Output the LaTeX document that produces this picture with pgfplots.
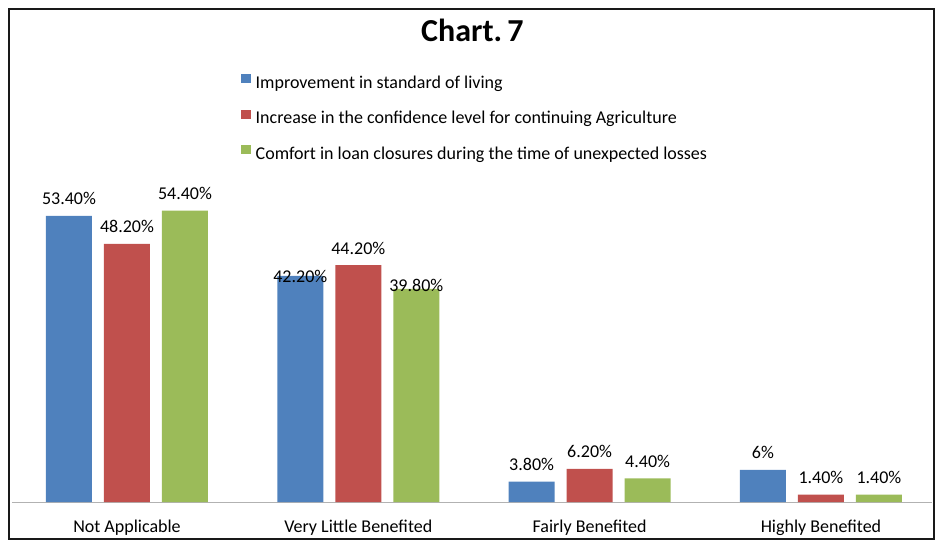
\documentclass[border=0pt]{standalone}
\usepackage{pgfplots}
\pgfplotsset{compat=1.18}
\usepackage{fontspec}
\setmainfont{Carlito}
\definecolor{cblue}{HTML}{4F81BD}
\definecolor{cred}{HTML}{C0504D}
\definecolor{cgreen}{HTML}{9BBB59}
\begin{document}
\begin{tikzpicture}[x=1pt,y=1pt]
\path (0,0) rectangle (937,542);
\draw[line width=2pt, black!90] (8.5,3) rectangle (934,532.5);
\begin{axis}[
  at={(12pt,40pt)}, anchor=south west,
  scale only axis, width=920pt, height=321.4pt,
  xmin=-0.497, xmax=3.48, ymin=0, ymax=60,
  ybar=12pt, bar width=46pt,
  axis x line*=bottom, hide y axis,
  x axis line style={draw=black!30, line width=1pt, -},
  xtick={0,1,2,3},
  xticklabels={Not Applicable, Very Little Benefited, Fairly Benefited, Highly Benefited},
  major tick length=0pt,
  xticklabel style={font=\fontsize{18}{21}\selectfont, anchor=base, yshift=-30.3pt, text=black},
  point meta=explicit symbolic,
  nodes near coords,
  nodes near coords style={anchor=base, yshift=11pt, inner sep=0pt, font=\fontsize{18}{21}\selectfont, text=black},
  legend style={at={(axis description cs:0.2489,1.3317)}, anchor=north west, draw=none, fill=none,
    inner sep=0pt, row sep=18.5pt, column sep=5pt,
    nodes={inner sep=0pt, text height=12pt, text depth=3pt},
    font=\fontsize{18}{21}\selectfont, text=black},
  legend cell align=left,
  legend image code/.code={\fill[#1] (0pt,0.5pt) rectangle (9.5pt,9.5pt);},
  title={Chart.\,7},
  title style={at={(axis description cs:0.5005,1.4322)}, anchor=base, yshift=-6pt, font=\fontsize{32}{38}\selectfont\bfseries},
  clip=false,
]
\addplot[fill=cblue, draw=none] coordinates {(0,53.4) [53.40\%] (1,42.2) [\raisebox{-18pt}{42.20\%}] (2,3.8) [3.80\%] (3,6) [6\%]};
\addplot[fill=cred, draw=none] coordinates {(0,48.2) [48.20\%] (1,44.2) [44.20\%] (2,6.2) [6.20\%] (3,1.4) [1.40\%]};
\addplot[fill=cgreen, draw=none] coordinates {(0,54.4) [54.40\%] (1,39.8) [\raisebox{-14pt}{39.80\%}] (2,4.4) [4.40\%] (3,1.4) [1.40\%]};
\legend{Improvement in standard of living, Increase in the confidence level for continuing Agriculture, Comfort in loan closures during the time of unexpected losses}
\end{axis}
\end{tikzpicture}
\end{document}
